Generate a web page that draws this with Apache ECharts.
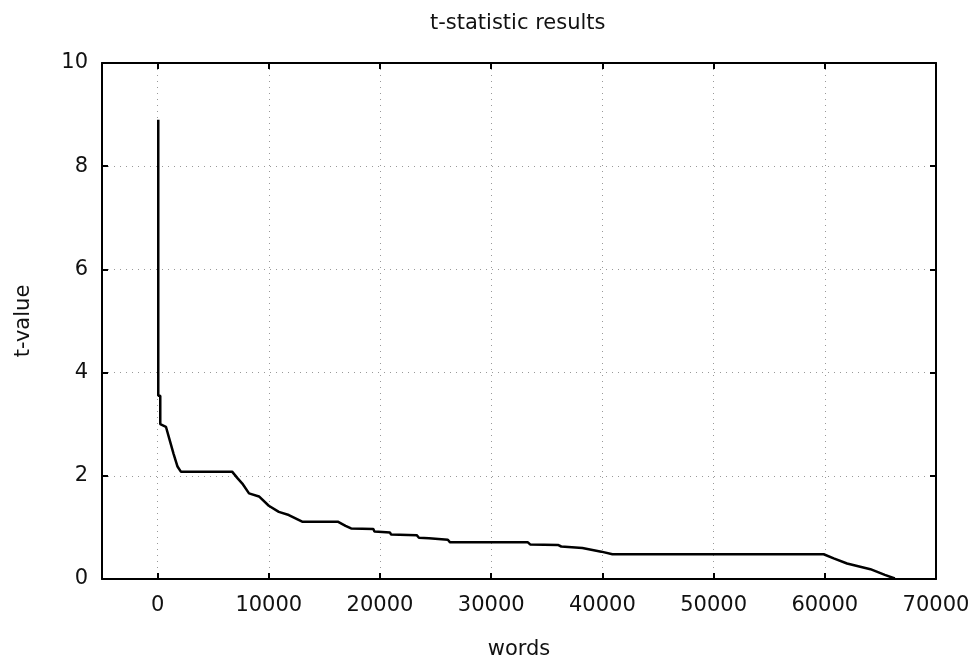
<!DOCTYPE html>
<html>
<head>
<meta charset="utf-8">
<script src="https://cdn.jsdelivr.net/npm/echarts@6/dist/echarts.min.js"></script>
<style>
    html, body { margin: 0; padding: 0; background: #fff; }
    #chart { width: 973px; height: 656px; }
</style>
</head>
<body>
<div id="chart"></div>
<script>
// word rank (x) and t-value (y)
const words = [60, 60, 240, 240, 750, 1050, 1430, 1790, 2090, 6700, 7200, 7620, 8220, 9120, 10000, 10900,
    11800, 13000, 16200, 16900, 17400, 19400, 19500, 20900, 21000, 23300, 23500, 24400, 26100, 26300,
    33300, 33500, 36000, 36300, 38200, 39900, 40900, 59900, 60800, 62000, 64100, 65400, 66300];
const tValues = [8.9, 3.55, 3.55, 3.0, 2.95, 2.72, 2.43, 2.18, 2.08, 2.08, 1.95, 1.85, 1.66, 1.60, 1.42, 1.30,
    1.24, 1.11, 1.11, 1.03, 0.98, 0.97, 0.92, 0.90, 0.86, 0.85, 0.80, 0.79, 0.76, 0.71,
    0.71, 0.67, 0.66, 0.63, 0.60, 0.53, 0.48, 0.48, 0.40, 0.30, 0.19, 0.08, 0.01];
const xTicks = [0, 10000, 20000, 30000, 40000, 50000, 60000, 70000];

const font = 'DejaVu Sans';
const chart = echarts.init(document.getElementById('chart'));

const border = { show: true, onZero: false, lineStyle: { color: '#000', width: 2 } };
const tickStyle = { show: true, inside: true, length: 6, lineStyle: { color: '#000', width: 2 } };
const gridDots = { show: true, lineStyle: { color: '#999', width: 1, type: [1, 5] } };
const labelText = { fontFamily: font, fontSize: 21, color: '#111' };

chart.setOption({
    animation: false,
    backgroundColor: '#fff',
    title: {
        text: 't-statistic results',
        left: 425,
        top: 8,
        textStyle: { ...labelText, fontWeight: 'normal' }
    },
    grid: { left: 102, right: 37, top: 63, bottom: 77, outerBoundsMode: 'none', containLabel: false },
    xAxis: [{
        type: 'value',
        min: -5000,
        max: 70000,
        name: 'words',
        nameLocation: 'middle',
        nameGap: 60,
        nameTextStyle: labelText,
        axisLine: border,
        axisTick: { ...tickStyle, customValues: xTicks },
        axisLabel: { ...labelText, customValues: xTicks, margin: 16, formatter: v => String(v) },
        splitLine: gridDots
    }, {
        type: 'value',
        position: 'top',
        min: -5000,
        max: 70000,
        axisLine: border,
        axisTick: { ...tickStyle, customValues: xTicks },
        axisLabel: { show: false },
        splitLine: { show: false }
    }],
    yAxis: [{
        type: 'value',
        min: 0,
        max: 10,
        interval: 2,
        name: 't-value',
        nameLocation: 'middle',
        nameGap: 68,
        nameRotate: 90,
        nameTextStyle: labelText,
        axisLine: border,
        axisTick: tickStyle,
        axisLabel: { ...labelText, margin: 14 },
        splitLine: gridDots
    }, {
        type: 'value',
        position: 'right',
        min: 0,
        max: 10,
        interval: 2,
        axisLine: border,
        axisTick: tickStyle,
        axisLabel: { show: false },
        splitLine: { show: false }
    }],
    series: [{
        type: 'line',
        data: words.map((w, i) => [w, tValues[i]]),
        showSymbol: false,
        lineStyle: { color: '#000', width: 2.5 },
        z: 5
    }]
});
</script>
</body>
</html>
